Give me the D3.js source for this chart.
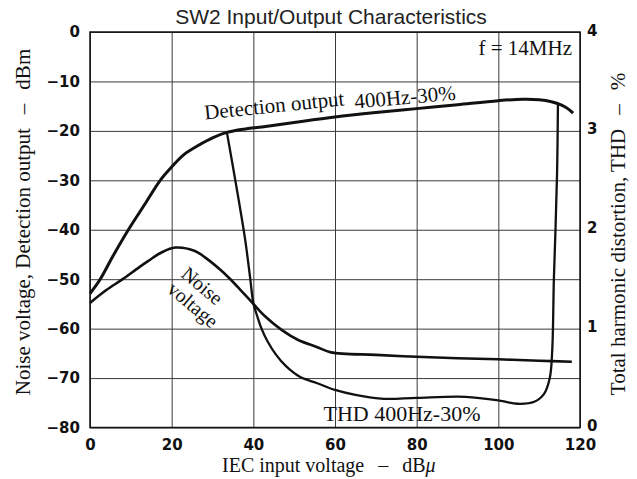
<!DOCTYPE html>
<html><head><meta charset="utf-8">
<script src="https://cdn.jsdelivr.net/npm/d3@7"></script>
<style>
body{margin:0;background:#fff;}
svg{display:block;}
</style></head><body>
<svg id="c" width="637" height="479"></svg>
<script>
// ---- data ----
const xTicks = [0, 20, 40, 60, 80, 100, 120];
const yTicks = [0, -10, -20, -30, -40, -50, -60, -70, -80];
const thdTicks = [0, 1, 2, 3, 4];

// Detection output (dBm) vs IEC input voltage (dBµ)
const detX = [0, 2.5, 5.5, 9.4, 13.3, 17.2, 20, 23, 26.6, 30, 33.5, 38, 43, 50, 60, 70, 80, 90, 100, 106, 110, 113, 115.5, 117, 118.3];
const detY = [-52.9, -50, -45.5, -40, -35, -30, -27.3, -24.8, -22.9, -21.4, -20.3, -19.6, -19.1, -18.3, -17.2, -16.3, -15.5, -14.7, -13.9, -13.6, -13.7, -14.1, -14.8, -15.5, -16.4];

// Noise voltage (dBm)
const noiseX = [0, 4, 8, 12, 14.3, 17.5, 20.9, 25.7, 28.5, 31.5, 34, 37, 40, 43, 47, 51, 55.5, 59, 70, 80, 90, 100, 110, 118];
const noiseY = [-54.8, -52.2, -50, -47.6, -46.3, -44.6, -43.6, -44.3, -45.8, -47.8, -49.7, -52.3, -55, -57.6, -60.3, -62.3, -63.7, -64.8, -65.3, -65.7, -66, -66.2, -66.5, -66.7];

// THD 400Hz-30% (%)
const thdX = [33.5, 35, 36.5, 38, 39.2, 40, 41, 42, 43.5, 45.5, 48, 51.5, 55.5, 60, 65, 72, 80, 92, 100.6, 104.7, 108.8, 111.2, 112.6, 113.2, 113.6, 114, 114.4, 114.6];
const thdY = [2.99, 2.64, 2.28, 1.9, 1.52, 1.26, 1.12, 1.0, 0.87, 0.74, 0.62, 0.51, 0.45, 0.38, 0.33, 0.29, 0.30, 0.31, 0.27, 0.24, 0.26, 0.34, 0.5, 0.78, 1.5, 2.0, 2.6, 3.28];

// ---- layout ----
const L = 90, R = 580, T = 32, B = 427.5;
const svg = d3.select("#c");
const x = d3.scaleLinear().domain([0, 120]).range([L, R]);
const y = d3.scaleLinear().domain([-80, 0]).range([B, T]);
const y2 = d3.scaleLinear().domain([0, 4]).range([B, T]);

const serif = "'Liberation Serif','Times New Roman',serif";
const tickFont = "'DejaVu Sans',sans-serif";

// grid
const gx = svg.append("g").attr("transform", `translate(0,${B})`)
  .call(d3.axisBottom(x).tickValues(xTicks).tickSize(-(B - T)).tickFormat(""));
gx.select(".domain").remove();
gx.selectAll("line").attr("stroke", "#3a3a3a").attr("stroke-width", 1);
const gy = svg.append("g").attr("transform", `translate(${L},0)`)
  .call(d3.axisLeft(y).tickValues(yTicks).tickSize(-(R - L)).tickFormat(""));
gy.select(".domain").remove();
gy.selectAll("line").attr("stroke", "#3a3a3a").attr("stroke-width", 1);

// frame
svg.append("rect").attr("x", L).attr("y", T).attr("width", R - L).attr("height", B - T)
  .attr("fill", "none").attr("stroke", "#111").attr("stroke-width", 1.5);

// tick labels
function styleAxis(g) {
  g.select(".domain").remove();
  g.selectAll("line").remove();
  g.attr("font-family", tickFont).attr("font-size", 15).attr("font-weight", "bold");
  g.selectAll("text").attr("fill", "#111");
}
const fmt = d => d < 0 ? "\u2212" + Math.abs(d) : String(d);
svg.append("g").attr("transform", `translate(${L},0)`)
  .call(d3.axisLeft(y).tickValues(yTicks).tickSize(0).tickPadding(10).tickFormat(fmt)).call(styleAxis);
svg.append("g").attr("transform", `translate(0,${B})`)
  .call(d3.axisBottom(x).tickValues(xTicks).tickSize(0).tickPadding(12).tickFormat(fmt)).call(styleAxis);
svg.append("g").attr("transform", `translate(${R},0)`)
  .call(d3.axisRight(y2).tickValues(thdTicks).tickSize(0).tickPadding(7).tickFormat(fmt)).call(styleAxis)
  .selectAll("text").attr("dy", "0.2em");

// curves
const zip = (a, b) => a.map((v, i) => [v, b[i]]);
const lineL = d3.line().x(d => x(d[0])).y(d => y(d[1])).curve(d3.curveCatmullRom.alpha(0.5));
const lineR = d3.line().x(d => x(d[0])).y(d => y2(d[1])).curve(d3.curveCatmullRom.alpha(0.5));
svg.append("path").attr("d", lineL(zip(noiseX, noiseY)))
  .attr("fill", "none").attr("stroke", "#111").attr("stroke-width", 2.6).attr("stroke-linejoin", "round");
svg.append("path").attr("d", lineR(zip(thdX, thdY)))
  .attr("fill", "none").attr("stroke", "#111").attr("stroke-width", 2.3).attr("stroke-linejoin", "round");
svg.append("path").attr("d", lineL(zip(detX, detY)))
  .attr("fill", "none").attr("stroke", "#111").attr("stroke-width", 3).attr("stroke-linejoin", "round");

// title
svg.append("text").attr("x", 331).attr("y", 24).attr("text-anchor", "middle")
  .attr("font-family", "'Liberation Sans',Arial,sans-serif").attr("font-size", 21).attr("fill", "#222")
  .text("SW2 Input/Output Characteristics");

// axis titles
const xt = svg.append("text").attr("x", 222).attr("y", 472)
  .attr("font-family", serif).attr("font-size", 20).attr("fill", "#111");
xt.append("tspan").text("IEC input voltage");
xt.append("tspan").attr("dx", 14).text("\u2013");
xt.append("tspan").attr("dx", 14).text("dB");
xt.append("tspan").attr("font-style", "italic").text("\u03bc");

const yt = svg.append("text").attr("transform", "translate(30,222) rotate(-90)").attr("text-anchor", "middle")
  .attr("font-family", serif).attr("font-size", 21).attr("fill", "#111");
yt.append("tspan").text("Noise voltage, Detection output");
yt.append("tspan").attr("dx", 14).text("\u2013");
yt.append("tspan").attr("dx", 14).text("dBm");

const y2t = svg.append("text").attr("transform", "translate(625,234) rotate(-90)").attr("text-anchor", "middle")
  .attr("font-family", serif).attr("font-size", 21).attr("fill", "#111");
y2t.append("tspan").text("Total harmonic distortion, THD");
y2t.append("tspan").attr("dx", 14).text("\u2013");
y2t.append("tspan").attr("dx", 14).text("%");

// in-plot labels
function lab(txt, tx, ty, rot, size, anchor) {
  svg.append("text").attr("transform", `translate(${tx},${ty}) rotate(${rot})`)
    .attr("text-anchor", anchor || "start")
    .attr("font-family", serif).attr("font-size", size).attr("fill", "#111").text(txt);
}
lab("Detection output", 205, 119.5, -5.8, 21);
lab("400Hz-30%", 355, 108.5, -5, 21);
lab("Noise", 180, 276, 40, 20);
lab("voltage", 166, 291, 40, 20);
lab("THD 400Hz-30%", 323.5, 421, 0, 22);
lab("f = 14MHz", 572, 55, 0, 21, "end");
</script>
</body></html>
